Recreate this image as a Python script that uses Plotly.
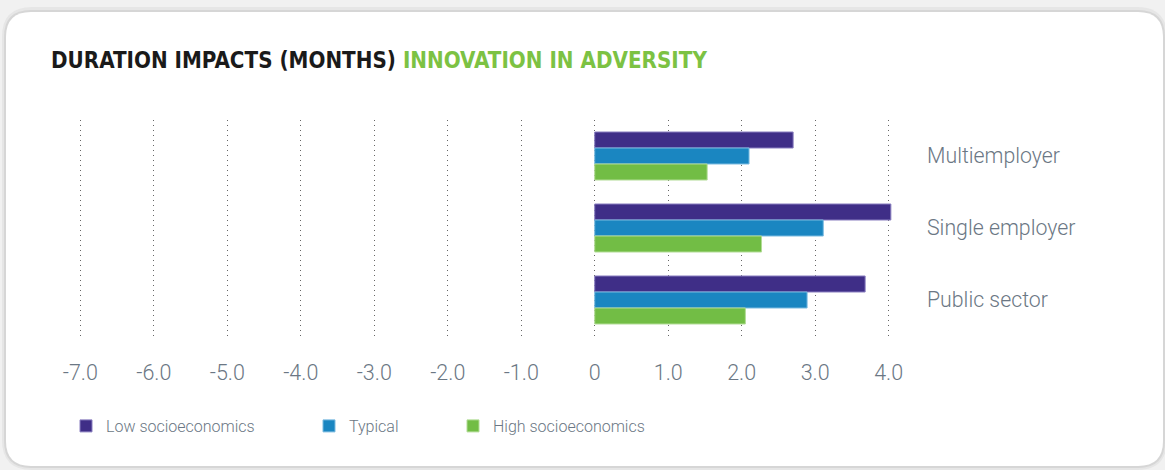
import plotly.graph_objects as go

categories = ["Multiemployer", "Single employer", "Public sector"]
series_names = ["Low socioeconomics", "Typical", "High socioeconomics"]
low_vals = [2.70, 4.03, 3.68]
typical_vals = [2.10, 3.11, 2.89]
high_vals = [1.53, 2.27, 2.05]
tick_vals = [-7, -6, -5, -4, -3, -2, -1, 0, 1, 2, 3, 4]
tick_text = ["-7.0", "-6.0", "-5.0", "-4.0", "-3.0", "-2.0", "-1.0", "0", "1.0", "2.0", "3.0", "4.0"]

colors = ["#3f2e87", "#1a86c1", "#72bd45"]
line_colors = ["#8a7fc0", "#7bbbe0", "#b2dc96"]

W, H = 1165, 470
L, R, T, B = 73, 269, 120, 134
PW, PH = W - L - R, H - T - B

fig = go.Figure()
for i, (name, vals) in enumerate(zip(series_names, [low_vals, typical_vals, high_vals])):
    fig.add_trace(go.Bar(
        y=categories, x=vals, name=name, orientation="h",
        marker=dict(color=colors[i], line=dict(color=line_colors[i], width=1)),
        legend="legend" if i == 0 else f"legend{i+1}",
        hoverinfo="skip",
    ))

def px2paper(px, py):
    return (px - L) / PW, (H - B - py) / PH

def rrect(x0, y0, x1, y1, r):
    def p(x, y):
        a, b = px2paper(x, y)
        return f"{a:.5f},{b:.5f}"
    return (f"M {p(x0 + r, y0)} L {p(x1 - r, y0)} Q {p(x1, y0)} {p(x1, y0 + r)} "
            f"L {p(x1, y1 - r)} Q {p(x1, y1)} {p(x1 - r, y1)} L {p(x0 + r, y1)} "
            f"Q {p(x0, y1)} {p(x0, y1 - r)} L {p(x0, y0 + r)} Q {p(x0, y0)} {p(x0 + r, y0)} Z")

shapes = [
    dict(type="path", xref="paper", yref="paper", path=rrect(2, 7, 1167, 470, 30),
         fillcolor="#e6e6e6", line=dict(width=0), layer="below"),
    dict(type="path", xref="paper", yref="paper", path=rrect(4, 10, 1165, 468, 27),
         fillcolor="#d6d6d6", line=dict(width=0), layer="below"),
    dict(type="path", xref="paper", yref="paper", path=rrect(6, 12, 1163, 466, 25),
         fillcolor="#ffffff", line=dict(width=0), layer="below"),
]

legend_common = dict(orientation="h", xref="container", yref="container",
                     xanchor="left", yanchor="middle", y=1 - 426 / H,
                     font=dict(family="Roboto", size=16, color="#6b7784", weight=300),
                     bgcolor="rgba(0,0,0,0)", itemclick=False, itemdoubleclick=False)

fig.update_layout(
    width=W, height=H,
    margin=dict(l=L, r=R, t=T, b=B),
    paper_bgcolor="#f1f1f1",
    plot_bgcolor="rgba(0,0,0,0)",
    barmode="group", bargap=0.333, bargroupgap=0,
    shapes=shapes,
    showlegend=True,
    legend=dict(x=66 / W, **legend_common),
    legend2=dict(x=309 / W, **legend_common),
    legend3=dict(x=453 / W, **legend_common),
    xaxis=dict(
        range=[-7.1, 4.1], tickvals=tick_vals, ticktext=tick_text,
        showgrid=True, gridcolor="#666666", griddash="1px,4px", gridwidth=1,
        zeroline=False, showline=False, ticks="", ticklabelstandoff=21,
        tickfont=dict(family="Roboto", size=21.5, color="#6b7784", weight=300),
        fixedrange=True,
    ),
    yaxis=dict(
        categoryorder="array", categoryarray=categories, autorange="reversed",
        side="right", showgrid=False, zeroline=False, showline=False, ticks="",
        ticklabelstandoff=30,
        tickfont=dict(family="Roboto", size=21.3, color="#6b7784", weight=300),
        fixedrange=True,
    ),
    annotations=[dict(
        xref="paper", yref="paper", x=px2paper(49, 60)[0], y=px2paper(49, 60)[1],
        xanchor="left", yanchor="middle", showarrow=False,
        text="<b>DURATION IMPACTS (MONTHS) </b><b><span style='color:#7cc243'>INNOVATION IN ADVERSITY</span></b>",
        font=dict(family="DejaVu Sans Condensed, Roboto", size=22.2, color="#1a1a1a"),
    )],
)

fig.write_html("out.html", config={"displayModeBar": False},
               post_script="document.body.style.margin='0';document.body.style.overflow='hidden';")
